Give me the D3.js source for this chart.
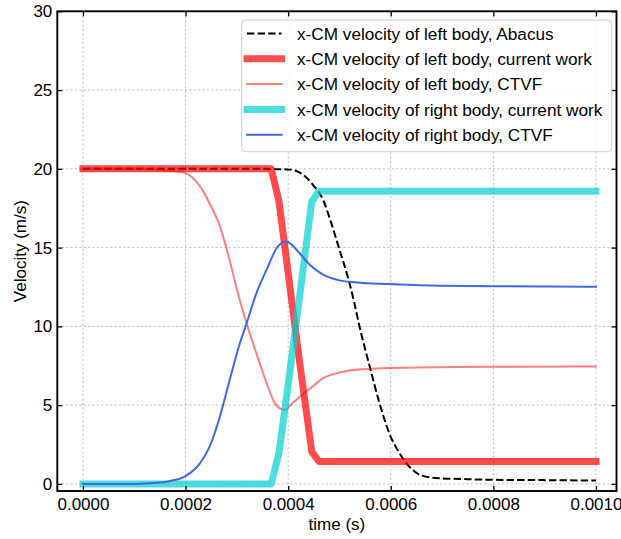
<!DOCTYPE html>
<html>
<head>
<meta charset="utf-8">
<script src="https://cdn.jsdelivr.net/npm/d3@7"></script>
<style>
  html, body { margin: 0; padding: 0; background: #fff; }
  svg text { font-family: "Liberation Sans", Arial, Helvetica, sans-serif; fill: #000; }
</style>
</head>
<body>
<svg id="chart" width="621" height="539"></svg>
<script>
// time samples (s) and x-velocity of the centre of mass (m/s)
const abacusT = [0, 0.00035, 0.000375, 0.000403, 0.000429, 0.000448, 0.000468, 0.000484, 0.0005, 0.000516, 0.000529, 0.000539, 0.000559, 0.000578, 0.000597, 0.000617, 0.000636, 0.000662, 0.000695, 0.00075, 0.0008, 0.0009, 0.001];
const abacusLeft = [20, 20, 19.98, 19.95, 19.63, 19.0, 18.04, 16.56, 14.87, 13.17, 11.48, 10.0, 7.45, 5.13, 3.22, 1.95, 1.1, 0.51, 0.36, 0.3, 0.26, 0.24, 0.21];

const currentT = [0, 0.000367, 0.000382, 0.0004, 0.00042, 0.000446, 0.00046, 0.0006, 0.0008, 0.001];
const currentLeft = [20, 20, 17.95, 13.4, 8.3, 2.05, 1.42, 1.42, 1.42, 1.42];
const currentRight = [0, 0, 1.95, 6.3, 11.3, 17.93, 18.57, 18.57, 18.57, 18.57];

const ctvfLeftT = [0, 0.0001, 0.00013, 0.000169, 0.000199, 0.000228, 0.000247, 0.000267, 0.000286, 0.000302, 0.000319, 0.000338, 0.000358, 0.000374, 0.000387, 0.000396, 0.000403, 0.000422, 0.000435, 0.000448, 0.000468, 0.0005, 0.000533, 0.000597, 0.000695, 0.0008, 0.001];
const ctvfLeft = [20, 20, 19.97, 19.88, 19.74, 18.9, 17.8, 16.35, 14.2, 12.1, 10.2, 8.3, 6.4, 5.13, 4.75, 4.7, 4.96, 5.5, 5.86, 6.2, 6.71, 7.07, 7.24, 7.35, 7.41, 7.43, 7.45];

const ctvfRightT = [0, 0.0001, 0.00013, 0.00017, 0.0002, 0.000228, 0.000247, 0.000267, 0.000286, 0.000306, 0.000319, 0.000338, 0.000358, 0.00038, 0.000397, 0.000403, 0.000422, 0.000442, 0.000468, 0.0005, 0.000533, 0.000598, 0.000695, 0.0008, 0.001];
const ctvfRight = [0, 0, 0.04, 0.19, 0.5, 1.3, 2.37, 4.28, 6.6, 8.94, 10.2, 12.1, 13.6, 15.08, 15.39, 15.29, 14.66, 13.91, 13.28, 12.92, 12.79, 12.69, 12.58, 12.55, 12.52];

const xTicks = [0, 0.0002, 0.0004, 0.0006, 0.0008, 0.001];
const yTicks = [0, 5, 10, 15, 20, 25, 30];

const legendLabels = [
  "x-CM velocity of left body, Abacus",
  "x-CM velocity of left body, current work",
  "x-CM velocity of left body, CTVF",
  "x-CM velocity of right body, current work",
  "x-CM velocity of right body, CTVF"
];

const series = [
  { t: abacusT, v: abacusLeft, color: "#000000", opacity: 1, width: 2, dash: "7.4,3.2", smooth: true },
  { t: currentT, v: currentLeft, color: "#ff0000", opacity: 0.7, width: 7, dash: null, smooth: false },
  { t: ctvfLeftT, v: ctvfLeft, color: "#ff0000", opacity: 0.5, width: 2, dash: null, smooth: true },
  { t: currentT, v: currentRight, color: "#00ced1", opacity: 0.7, width: 7, dash: null, smooth: false },
  { t: ctvfRightT, v: ctvfRight, color: "#4169e1", opacity: 1, width: 2, dash: null, smooth: true }
];

const FONT = 17;
const LEGEND_FONT = 17.2;
const plotL = 57.3, plotR = 616.5, plotT = 11.3, plotB = 491;

const svg = d3.select("#chart");
const x = d3.scaleLinear().domain([-0.00005, 0.00104]).range([plotL, plotR]);
const y = d3.scaleLinear().domain([-0.45, 30]).range([plotB, plotT]);

// grid
const grid = svg.append("g").attr("stroke", "#b0b0b0").attr("stroke-width", 0.8)
  .attr("stroke-dasharray", "2.2,2.2");
grid.selectAll("line.gx").data(xTicks).join("line").attr("class", "gx")
  .attr("x1", d => x(d)).attr("x2", d => x(d)).attr("y1", plotT).attr("y2", plotB);
grid.selectAll("line.gy").data(yTicks).join("line").attr("class", "gy")
  .attr("x1", plotL).attr("x2", plotR).attr("y1", d => y(d)).attr("y2", d => y(d));

// data lines
svg.append("clipPath").attr("id", "plotclip").append("rect")
  .attr("x", plotL).attr("y", plotT).attr("width", plotR - plotL).attr("height", plotB - plotT);
const lines = svg.append("g").attr("clip-path", "url(#plotclip)");
series.forEach(s => {
  const pts = s.t.map((t, i) => [t, s.v[i]]);
  const line = d3.line().x(d => x(d[0])).y(d => y(d[1]))
    .curve(s.smooth ? d3.curveMonotoneX : d3.curveLinear);
  lines.append("path").attr("d", line(pts))
    .attr("fill", "none").attr("stroke", s.color).attr("stroke-opacity", s.opacity)
    .attr("stroke-width", s.width).attr("stroke-dasharray", s.dash)
    .attr("stroke-linecap", s.dash ? "butt" : "square").attr("stroke-linejoin", "round");
});

// axes with inward ticks on all sides
const tickLen = 5;
const xFmt = d3.format(".4f");
const axB = svg.append("g").attr("transform", `translate(0,${plotB})`)
  .call(d3.axisBottom(x).tickValues(xTicks).tickFormat(xFmt).tickSizeInner(-tickLen).tickSizeOuter(0).tickPadding(7));
const axT = svg.append("g").attr("transform", `translate(0,${plotT})`)
  .call(d3.axisTop(x).tickValues(xTicks).tickFormat("").tickSizeInner(-tickLen).tickSizeOuter(0));
const axL = svg.append("g").attr("transform", `translate(${plotL},0)`)
  .call(d3.axisLeft(y).tickValues(yTicks).tickFormat(d3.format("d")).tickSizeInner(-tickLen).tickSizeOuter(0).tickPadding(5));
const axR = svg.append("g").attr("transform", `translate(${plotR},0)`)
  .call(d3.axisRight(y).tickValues(yTicks).tickFormat("").tickSizeInner(-tickLen).tickSizeOuter(0));
[axB, axT, axL, axR].forEach(a => {
  a.select(".domain").remove();
  a.selectAll(".tick line").attr("stroke", "#000").attr("stroke-width", 1.3);
  a.selectAll(".tick text").attr("font-size", FONT).attr("font-family", "Liberation Sans, Arial, sans-serif");
});
axB.selectAll(".tick text").attr("dy", "0.71em");

// frame
svg.append("rect").attr("x", plotL).attr("y", plotT).attr("width", plotR - plotL).attr("height", plotB - plotT)
  .attr("fill", "none").attr("stroke", "#000").attr("stroke-width", 1.9);

// axis titles
svg.append("text").attr("x", (plotL + plotR) / 2).attr("y", 530).attr("text-anchor", "middle")
  .attr("font-size", FONT).text("time (s)");
svg.append("text").attr("transform", `translate(26,${(plotT + plotB) / 2}) rotate(-90)`)
  .attr("text-anchor", "middle").attr("font-size", FONT).text("Velocity (m/s)");

// legend
const lg = svg.append("g");
lg.append("rect").attr("x", 241.7).attr("y", 20).attr("width", 370).attr("height", 131.7)
  .attr("rx", 4).attr("fill", "#fff").attr("fill-opacity", 0.8)
  .attr("stroke", "#cccccc").attr("stroke-width", 1);
series.forEach((s, i) => {
  const cy = 33.5 + i * 25.3;
  lg.append("line").attr("x1", 247).attr("x2", 281.5).attr("y1", cy).attr("y2", cy)
    .attr("stroke", s.color).attr("stroke-opacity", s.opacity).attr("stroke-width", s.width)
    .attr("stroke-dasharray", s.dash).attr("stroke-linecap", s.dash ? "butt" : "square");
  lg.append("text").attr("x", 297).attr("y", cy).attr("dy", "0.36em")
    .attr("font-size", LEGEND_FONT).text(legendLabels[i]);
});
</script>
</body>
</html>
